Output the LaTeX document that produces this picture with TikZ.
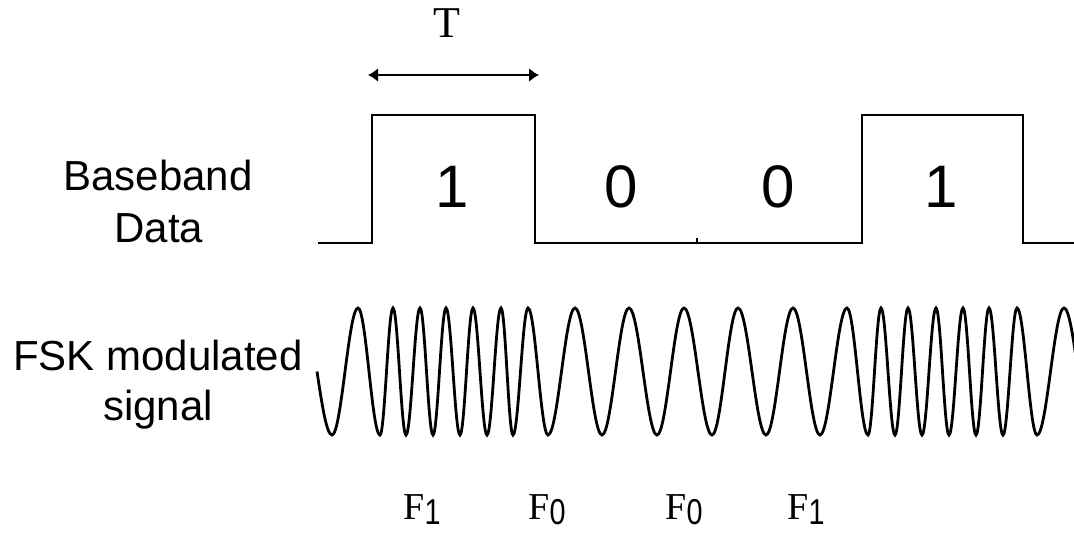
\documentclass[tikz,border=0pt]{standalone}
\usepackage{fontspec}
\setmainfont{Liberation Sans}
\newfontfamily\timesfont{Liberation Serif}
\newfontfamily\arialfont{Liberation Sans}
\usetikzlibrary{arrows.meta}

\newcommand{\fsub}[1]{\raisebox{-2.5pt}{\arialfont\fontsize{18}{22}\selectfont\scalebox{0.8}[1]{#1}}}

\begin{document}
\begin{tikzpicture}[x=0.5pt, y=-0.5pt,
    signal/.style={line width=1.4pt, line join=miter},
    wave/.style={line width=1.4pt},
    sidelabel/.style={font=\fontsize{21}{25}\selectfont, inner sep=0pt, anchor=base},
    bitlabel/.style={font=\fontsize{30}{36}\selectfont, inner sep=0pt, anchor=base},
    freqlabel/.style={font=\timesfont\fontsize{19}{23}\selectfont, inner sep=0pt, anchor=base}]
    \useasboundingbox (0,0) rectangle (1074,532);

    % Bit period T
    \coordinate (tL) at (368,75);
    \coordinate (tR) at (539,75);
    \draw[line width=1pt, {Latex[length=5pt,width=7pt]}-{Latex[length=5pt,width=7pt]}] (tL) -- (tR);
    \node[font=\timesfont\fontsize{22}{26}\selectfont, inner sep=0pt, anchor=base] (T) at (447,37) {T};

    % Baseband data 1 0 0 1
    \draw[signal] (318,243) -- (372,243) -- (372,115) -- (535,115) -- (535,243)
        -- (862,243) -- (862,115) -- (1023,115) -- (1023,243) -- (1074,243);
    \draw[line width=1pt] (697,243) -- (697,238);
    \node[bitlabel] (b1) at (452,207) {1};
    \node[bitlabel] (b2) at (621,207) {0};
    \node[bitlabel] (b3) at (778,207) {0};
    \node[bitlabel] (b4) at (941,207) {1};

    % Row labels
    \node[sidelabel] (bb) at (158,190) {Baseband};
    \node[sidelabel] (data) at (159,242) {Data};
    \node[sidelabel] (fsk) at (158,370) {FSK modulated};
    \node[sidelabel] (sig) at (158,420) {signal};

    % FSK waveform, built from its peaks and troughs
    \begin{scope}
    \clip (0,0) rectangle (1074,532);
    \draw[wave] (317,371.5) sin (332,435)
        foreach \xb/\yb [remember=\xb as \xa (initially 332)] in
        {358/308, 380/435, 393/308, 406/435, 420/308, 433/435, 446/308,
         460/435, 473/308, 487/435, 501/308, 513/435, 528/308, 548/435,
         575/308, 602/435, 629/308, 657/435, 684/308, 712/435, 738/308,
         766/435, 793/308, 820/435, 847/308, 868/435, 881/308, 895/435,
         908/308, 922/435, 936/308, 949/435, 963/308, 976/435, 989/308,
         1003/435, 1017/308, 1037/435, 1064/308}
        { cos ({(\xa+\xb)/2},371.5) sin (\xb,\yb) }
        cos (1078,371.5);
    \end{scope}

    % Frequencies
    \node[freqlabel] (f1) at (422,519) {F\fsub{1}};
    \node[freqlabel] (f2) at (547,519) {F\fsub{0}};
    \node[freqlabel] (f3) at (684,519) {F\fsub{0}};
    \node[freqlabel] (f4) at (806,519) {F\fsub{1}};

\end{tikzpicture}
\end{document}
